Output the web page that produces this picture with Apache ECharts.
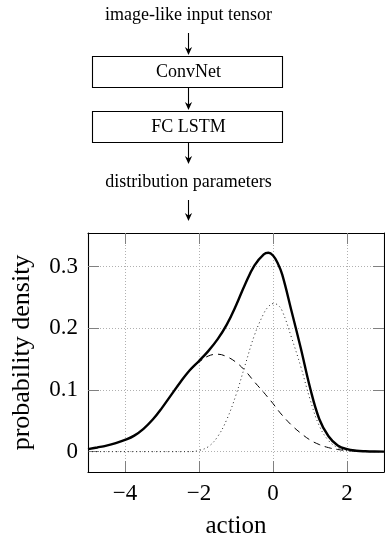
<!DOCTYPE html>
<html>
<head>
<meta charset="utf-8">
<script src="https://cdn.jsdelivr.net/npm/echarts@6/dist/echarts.min.js"></script>
<style>
    html, body { margin: 0; padding: 0; background: #fff; }
    #mixture-chart { width: 385px; height: 544px; }
</style>
</head>
<body>
<div id="mixture-chart"></div>
<script>
    // sample points along the action axis (denser around the peak)
    var actionX = [-5, -4.75, -4.5, -4.25, -4, -3.75, -3.5, -3.25, -3, -2.75, -2.5, -2.25,
        -2, -1.75, -1.5, -1.25, -1, -0.75, -0.5, -0.25, -0.125, 0, 0.125, 0.25, 0.5, 0.75,
        1, 1.25, 1.5, 1.75, 2, 2.25, 2.5, 2.75, 3];
    // mixture density (thick line)
    var mixtureY = [0.004, 0.0068, 0.0098, 0.0138, 0.019, 0.026, 0.037, 0.052, 0.071, 0.092, 0.113, 0.132,
        0.147, 0.163, 0.182, 0.206, 0.237, 0.272, 0.302, 0.320, 0.3225, 0.318, 0.306, 0.287, 0.228, 0.168,
        0.104, 0.053, 0.025, 0.010, 0.004, 0.0015, 0.0006, 0.0002, 0.0001];
    // first component (dashed)
    var compAY = [0.004, 0.0068, 0.0098, 0.0138, 0.019, 0.026, 0.037, 0.052, 0.071, 0.092, 0.113, 0.131,
        0.145, 0.155, 0.158, 0.154, 0.145, 0.131, 0.113, 0.096, 0.087, 0.078, 0.068, 0.059, 0.043, 0.030,
        0.019, 0.0115, 0.0065, 0.0035, 0.0017, 0.0008, 0.0003, 0.0001, 0];
    // second component (dotted)
    var compBY = [0, 0, 0, 0, 0, 0, 0, 0, 0, 0, 0, 0,
        0.002, 0.008, 0.024, 0.052, 0.092, 0.141, 0.189, 0.224, 0.235, 0.240, 0.238, 0.228, 0.185, 0.138,
        0.085, 0.042, 0.018, 0.0065, 0.002, 0.0005, 0.0001, 0, 0];
    var xTicks = [-4, -2, 0, 2];
    var yTicks = [0, 0.1, 0.2, 0.3];
    var boxLabels = ['ConvNet', 'FC LSTM'];
    var topText = 'image-like input tensor';
    var midText = 'distribution parameters';

    function pairs(ys) {
        return actionX.map(function (x, i) { return [x, ys[i]]; });
    }

    var serif = '"Liberation Serif", "DejaVu Serif", serif';
    var tickGray = '#808080';

    // arrow: vertical shaft + filled head
    function arrow(x, y1, y2) {
        return [
            { type: 'line', shape: { x1: x, y1: y1, x2: x, y2: y2 - 3 }, style: { stroke: '#000', lineWidth: 1.1 } },
            { type: 'polygon', shape: { points: [[x, y2], [x - 3.6, y2 - 8], [x, y2 - 5.5], [x + 3.6, y2 - 8]] }, style: { fill: '#000' } }
        ];
    }

    var cx = 188.5;
    var graphics = [
        { type: 'text', style: { text: topText, x: cx, y: 15, font: '18px ' + serif, align: 'center', verticalAlign: 'middle', fill: '#000' } },
        { type: 'rect', shape: { x: 92.5, y: 56.5, width: 190, height: 31 }, style: { fill: '#fff', stroke: '#000', lineWidth: 1.1 } },
        { type: 'text', style: { text: boxLabels[0], x: cx, y: 72.5, font: '18px ' + serif, align: 'center', verticalAlign: 'middle', fill: '#000' } },
        { type: 'rect', shape: { x: 92.5, y: 111.5, width: 190, height: 31 }, style: { fill: '#fff', stroke: '#000', lineWidth: 1.1 } },
        { type: 'text', style: { text: boxLabels[1], x: cx, y: 127.5, font: '18px ' + serif, align: 'center', verticalAlign: 'middle', fill: '#000' } },
        { type: 'text', style: { text: midText, x: cx, y: 182, font: '18px ' + serif, align: 'center', verticalAlign: 'middle', fill: '#000' } }
    ].concat(arrow(cx, 33, 55), arrow(cx, 87.5, 110), arrow(cx, 142.5, 164), arrow(cx, 200, 221));

    var myEcharts = echarts.init(document.getElementById('mixture-chart'), null, { renderer: 'canvas' });

    var minusFmt = function (v) { return v < 0 ? '\u2212' + Math.abs(v) : String(v); };

    myEcharts.setOption({
        animation: false,
        backgroundColor: '#fff',
        graphic: graphics,
        grid: { left: 88, right: 1, top: 233, bottom: 72, containLabel: false },
        xAxis: [{
            type: 'value', min: -5, max: 3, position: 'bottom',
            name: 'action', nameLocation: 'middle', nameGap: 42,
            nameTextStyle: { fontFamily: serif, fontSize: 25, color: '#000' },
            axisLine: { show: true, onZero: false, lineStyle: { color: '#000', width: 1.1 } },
            axisTick: { show: true, inside: true, length: 11, customValues: xTicks, lineStyle: { color: tickGray } },
            axisLabel: { customValues: xTicks, formatter: minusFmt, fontFamily: serif, fontSize: 23, color: '#000', margin: 10 },
            splitLine: { show: true, lineStyle: { color: '#b0b0b0', type: [1, 2], width: 1 } }
        }, {
            type: 'value', min: -5, max: 3, position: 'top',
            axisLine: { show: true, onZero: false, lineStyle: { color: '#000', width: 1.1 } },
            axisTick: { show: true, inside: true, length: 11, customValues: xTicks, lineStyle: { color: tickGray } },
            axisLabel: { show: false },
            splitLine: { show: false }
        }],
        yAxis: [{
            type: 'value', min: -0.033, max: 0.3545, position: 'left',
            name: 'probability density', nameLocation: 'middle', nameGap: 53,
            nameTextStyle: { fontFamily: serif, fontSize: 26, color: '#000' },
            axisLine: { show: true, onZero: false, lineStyle: { color: '#000', width: 1.1 } },
            axisTick: { show: true, inside: true, length: 11, customValues: yTicks, lineStyle: { color: tickGray } },
            axisLabel: { customValues: yTicks, fontFamily: serif, fontSize: 23, color: '#000', margin: 10 },
            splitLine: { show: true, lineStyle: { color: '#b0b0b0', type: [1, 2], width: 1 } }
        }, {
            type: 'value', min: -0.033, max: 0.3545, position: 'right',
            axisLine: { show: true, onZero: false, lineStyle: { color: '#000', width: 1.1 } },
            axisTick: { show: true, inside: true, length: 11, customValues: yTicks, lineStyle: { color: tickGray } },
            axisLabel: { show: false },
            splitLine: { show: false }
        }],
        series: [{
            name: 'component 2', type: 'line', data: pairs(compBY),
            smooth: 0.4, showSymbol: false, symbol: 'none',
            lineStyle: { color: '#222', width: 1, type: [1, 3] }, z: 3
        }, {
            name: 'component 1', type: 'line', data: pairs(compAY),
            smooth: 0.4, showSymbol: false, symbol: 'none',
            lineStyle: { color: '#000', width: 1, type: [7, 5] }, z: 4
        }, {
            name: 'mixture', type: 'line', data: pairs(mixtureY),
            smooth: 0.4, showSymbol: false, symbol: 'none',
            lineStyle: { color: '#000', width: 2.4 }, z: 5
        }]
    });
</script>
</body>
</html>
